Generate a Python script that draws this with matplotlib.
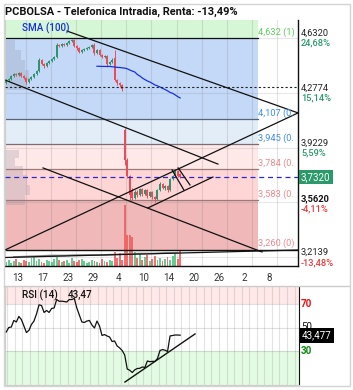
import matplotlib
matplotlib.use("Agg")
import matplotlib.pyplot as plt
from matplotlib.patches import Rectangle
import numpy as np

plt.rcParams['font.family'] = ['Roboto', 'DejaVu Sans']

# ---------------- data ----------------
title = "PCBOLSA - Telefonica Intradia, Renta: -13,49%"

opens = [4.341, 4.360, 4.367, 4.386, 4.399, 4.393, 4.405, 4.386, 4.373, 4.347,
         4.367, 4.380, 4.399, 4.418, 4.490, 4.464, 4.451, 4.470, 4.483, 4.496,
         4.509, 4.587, 4.580, 4.593, 4.587, 4.600, 4.613, 4.619, 4.580, 4.567,
         4.541, 4.554, 4.561, 4.567, 4.574, 4.587, 4.535, 4.554, 4.522, 4.509,
         4.515, 4.464, 4.477, 4.503, 4.360, 4.341, 4.328, 4.037, 3.842, 3.739,
         3.648, 3.596, 3.635, 3.616, 3.655, 3.622, 3.648, 3.609, 3.635, 3.603,
         3.590, 3.648, 3.687, 3.661, 3.674, 3.648, 3.719, 3.739, 3.771, 3.752]
highs = [4.367, 4.373, 4.393, 4.405, 4.405, 4.412, 4.412, 4.393, 4.380, 4.373,
         4.386, 4.405, 4.425, 4.503, 4.496, 4.470, 4.477, 4.490, 4.503, 4.515,
         4.600, 4.593, 4.600, 4.600, 4.606, 4.619, 4.625, 4.625, 4.587, 4.574,
         4.561, 4.567, 4.574, 4.580, 4.593, 4.600, 4.561, 4.561, 4.528, 4.522,
         4.522, 4.483, 4.503, 4.554, 4.367, 4.347, 4.334, 4.049, 3.855, 3.745,
         3.661, 3.648, 3.648, 3.661, 3.661, 3.655, 3.655, 3.642, 3.642, 3.609,
         3.655, 3.700, 3.694, 3.681, 3.681, 3.726, 3.745, 3.778, 3.778, 3.758]
lows = [4.334, 4.354, 4.360, 4.380, 4.386, 4.386, 4.380, 4.367, 4.334, 4.341,
        4.360, 4.373, 4.393, 4.412, 4.457, 4.438, 4.444, 4.464, 4.477, 4.490,
        4.503, 4.574, 4.574, 4.580, 4.580, 4.593, 4.606, 4.574, 4.554, 4.535,
        4.535, 4.548, 4.554, 4.561, 4.567, 4.522, 4.528, 4.515, 4.503, 4.503,
        4.444, 4.457, 4.470, 4.354, 4.328, 4.315, 4.289, 3.810, 3.726, 3.583,
        3.583, 3.590, 3.603, 3.609, 3.609, 3.616, 3.596, 3.603, 3.590, 3.570,
        3.583, 3.642, 3.655, 3.648, 3.635, 3.642, 3.713, 3.732, 3.732, 3.726]
closes = [4.360, 4.367, 4.386, 4.399, 4.393, 4.405, 4.386, 4.373, 4.347, 4.367,
          4.380, 4.399, 4.418, 4.490, 4.464, 4.451, 4.470, 4.483, 4.496, 4.509,
          4.587, 4.580, 4.593, 4.587, 4.600, 4.613, 4.619, 4.580, 4.567, 4.541,
          4.554, 4.561, 4.567, 4.574, 4.587, 4.535, 4.554, 4.522, 4.509, 4.515,
          4.464, 4.477, 4.490, 4.360, 4.341, 4.328, 4.302, 3.842, 3.739, 3.616,
          3.596, 3.635, 3.616, 3.655, 3.622, 3.648, 3.609, 3.635, 3.603, 3.590,
          3.648, 3.687, 3.661, 3.674, 3.648, 3.719, 3.739, 3.771, 3.739, 3.732]
volumes = [4, 6, 3, 5, 7, 4, 3, 6, 5, 4, 8, 9, 5, 7, 4, 3, 6, 5, 4, 7,
           9, 6, 4, 5, 6, 3, 8, 5, 4, 6, 7, 5, 3, 4, 6, 5, 4, 3, 7, 5,
           4, 6, 5, 14, 8, 13, 6, 61, 31, 31, 29, 14, 8, 12, 6, 9, 11, 5, 7, 10,
           6, 8, 5, 7, 9, 6, 10, 12, 7, 16]
vol_ma_bars = [3, 8, 13, 18, 23, 28, 33, 38, 43, 48, 53, 58, 63, 68]
vol_ma = [9, 9.5, 10, 10.5, 10.5, 11, 11, 11, 11.5, 12, 12.5, 12.5, 13, 13]
rsi = [46.2, 50.0, 50.4, 56.0, 54.7, 59.4, 56.8, 51.3, 45.7, 47.6,
       52.6, 55.5, 61.5, 69.3, 68.7, 62.8, 64.5, 62.8, 66.2, 66.6,
       73.8, 72.3, 72.4, 72.1, 71.7, 73.8, 73.8, 74.7, 66.6, 60.6,
       54.7, 54.3, 55.5, 56.0, 52.1, 49.6, 55.5, 51.3, 43.2, 44.0,
       42.8, 41.9, 38.1, 38.5, 34.3, 32.6, 30.4, 26.6, 14.7, 13.6,
       11.7, 14.0, 15.1, 15.3, 16.4, 16.0, 21.5, 20.9, 21.2, 21.1,
       23.6, 30.4, 31.2, 30.7, 29.6, 42.8, 43.2, 43.6, 43.6, 43.47]
sma_start = 36
sma100 = [4.449, 4.449, 4.448, 4.448, 4.448, 4.448, 4.446, 4.444, 4.442, 4.441,
          4.439, 4.437, 4.433, 4.425, 4.418, 4.412, 4.396, 4.386, 4.373, 4.363,
          4.354, 4.347, 4.338, 4.328, 4.322, 4.315, 4.306, 4.299, 4.290, 4.280,
          4.274, 4.264, 4.253, 4.244]

date_labels = ["13", "17", "23", "29", "4", "10", "14", "20", "26", "2", "8"]

fib_levels = [4.632, 4.107, 3.945, 3.784, 3.583, 3.260]
fib_labels = ["4,632 (1)", "4,107 (0.", "3,945 (0.", "3,784 (0.",
              "3,583 (0.", "3,260 (0)"]
axis_ticks = [4.6320, 4.2774, 3.9229, 3.5684, 3.2139]
tick_labels = ["4,6320", "4,2774", "3,9229", None, "3,2139"]
pct_labels = ["24,68%", "15,14%", "5,59%", None, "-13,48%"]
ref_level = 3.5620
ref_label, ref_pct = "3,5620", "-4,11%"
last_label = "3,7320"
dotted_level = 4.315
rsi_label_value = "43,47"
rsi_last_label = "43,477"

# trend lines as (bar, price) end points
trend_lines = [
    ((24.6, 4.677), (116.3, 4.147)),
    ((0.0, 4.360), (84.5, 3.816)),
    ((15.1, 3.791), (102.0, 3.247)),
    ((0.0, 3.260), (116.3, 4.147)),
    ((56.7, 3.532), (82.5, 3.732)),
    ((66.3, 3.778), (71.0, 3.648)),
    ((68.7, 3.791), (73.4, 3.681)),
]
vol_trend = ((0.0, 8.5), (116.3, 16.0))
rsi_trend = ((47.6, 3.6), (75.4, 44.5))

# left volume profile (price centre, height, width in bars)
prof_prices = [4.587, 4.522, 4.457, 4.393, 4.328, 3.881, 3.829, 3.774, 3.713, 3.648, 3.583]
prof_height = [0.064, 0.064, 0.064, 0.064, 0.064, 0.052, 0.052, 0.058, 0.064, 0.064, 0.064]
prof_width = [4.0, 6.3, 7.9, 9.5, 8.7, 5.6, 4.0, 7.1, 8.7, 9.9, 7.9]

# ---------------- layout ----------------
W, H, DPI = 353, 390, 100
PX_PER_BAR = 2.52
PX_PER_PRICE = 154.5
VOL_SCALE = 1.0 / PX_PER_PRICE

def fx(px):
    return px / W

def fy(py):
    return 1 - py / H

GREEN_UP = "#2e9470"
RED_DN = "#ee4b5a"
FS = 6.7

fig = plt.figure(figsize=(W / DPI, H / DPI), dpi=DPI)
fig.patch.set_facecolor("white")

# ---------------- main panel ----------------
ax = fig.add_axes([fx(5), fy(266), (298 - 5) / W, (266 - 20) / H])
ymax = fib_levels[0] + 18 / PX_PER_PRICE
ymin = fib_levels[0] - 228 / PX_PER_PRICE
xmax = (298 - 5) / PX_PER_BAR
ax.set_xlim(0, xmax)
ax.set_ylim(ymin, ymax)
ax.set_facecolor("white")

zone_end = (258 - 5) / PX_PER_BAR
zone_tops = [ymax] + fib_levels[:-1]
zone_bots = fib_levels
zone_colors = ["#d6f7d6", "#c3d9f7", "#e2edf8", "#ffe8e8", "#ffd6d6", "#f0b8b8"]
for t, b, c in zip(zone_tops, zone_bots, zone_colors):
    ax.add_patch(Rectangle((0, b), zone_end, t - b, facecolor=c, edgecolor="none", zorder=1))

# grid
for gx in np.arange((25.5 - 5) / PX_PER_BAR, xmax, 10.0):
    ax.axvline(gx, color="#808080", alpha=0.22, lw=0.8, zorder=1.5)
for gy in axis_ticks:
    ax.axhline(gy, color="#808080", alpha=0.18, lw=0.8, zorder=1.5)

x = np.arange(len(closes)) + 0.5
o = np.array(opens); c = np.array(closes); h = np.array(highs); l = np.array(lows)
up = c >= o
cols = np.where(up, GREEN_UP, RED_DN)

# volume
vcols = np.where(up, "#4cc47f", "#f05a5a")
ax.bar(x, np.array(volumes) * VOL_SCALE, bottom=ymin, width=0.75, color=vcols,
       alpha=0.85, linewidth=0, zorder=2)
ax.plot(np.array(vol_ma_bars) + 0.5, ymin + np.array(vol_ma) * VOL_SCALE,
        color="#888888", lw=1.2, zorder=2.2)
ax.plot([vol_trend[0][0], vol_trend[1][0]],
        [ymin + vol_trend[0][1] * VOL_SCALE, ymin + vol_trend[1][1] * VOL_SCALE],
        color="#111111", lw=0.9, zorder=4)

# volume profile
ax.barh(prof_prices, prof_width, height=prof_height, left=0, color="#8890a0",
        alpha=0.25, linewidth=0, zorder=2)

# fib lines
fib_line_colors = ["#111111", "#5a6474", "#7a6e76", "#9a7a7a", "#9a7a7a"]
for lv, lc in zip(fib_levels[:-1], fib_line_colors):
    ax.plot([0, zone_end], [lv, lv], color=lc, lw=0.9, zorder=2.5)
ax.axhline(fib_levels[-1], color="#111111", lw=1.0, zorder=2.5)

# candles
ax.vlines(x, l, h, colors=cols, lw=0.7, zorder=3)
ax.bar(x, np.maximum(np.abs(c - o), 0.004), bottom=np.minimum(o, c), width=0.78,
       color=cols, linewidth=0, zorder=3.1)

# SMA
ax.plot(x[sma_start:], sma100, color="#1a2fe0", lw=0.9, zorder=3.5)

# horizontal markers
ax.axhline(dotted_level, color="#222222", lw=0.8, ls=(0, (2, 2)), zorder=3.6)
ax.axhline(closes[-1], color="#2a2ad0", lw=0.9, ls=(0, (4, 3)), zorder=3.6)

for (x0, y0), (x1, y1) in trend_lines:
    ax.plot([x0, x1], [y0, y1], color="#111111", lw=0.9, zorder=4)

# fib labels
fib_text_colors = ["#5ccc5c", "#3f8ef0", "#3f8ef0", "#f08a8a", "#f08a8a", "#f08a8a"]
for lv, lab, tc in zip(fib_levels, fib_labels, fib_text_colors):
    ax.annotate(lab, xy=(zone_end, lv), xytext=(0, 1.5), textcoords="offset pixels",
                ha="left", va="bottom", fontsize=FS, color=tc, clip_on=True, zorder=5)

ax.text(0.058, 0.967, "SMA (100)", transform=ax.transAxes, fontsize=FS + 0.4,
        color="#1a2fe0", ha="left", va="center", fontweight="medium", zorder=5)

# spines / ticks
ax.spines["top"].set_visible(False)
ax.spines["left"].set_color("#cccccc")
ax.spines["right"].set_color("#111111")
ax.spines["bottom"].set_color("#111111")
ax.spines["right"].set_linewidth(1.0)
ax.spines["bottom"].set_linewidth(1.0)
ax.set_yticks([])
ax.set_xticks(np.arange((17.3 - 5) / PX_PER_BAR, xmax, 10.0)[:len(date_labels)])
ax.set_xticklabels(date_labels, fontsize=FS + 0.3, color="#333333")
ax.tick_params(axis="x", length=0, pad=5.0)

# right axis labels
for tv, tl, pl in zip(axis_ticks, tick_labels, pct_labels):
    if tl is None:
        continue
    ax.annotate(tl, xy=(1, tv), xycoords=("axes fraction", "data"), xytext=(3, 4.7),
                textcoords="offset pixels", ha="left", va="center", fontsize=FS,
                color="#222222", annotation_clip=False)
    pc = "#2a9a6a" if not pl.startswith("-") else "#f03a3a"
    ax.annotate(pl, xy=(1, tv), xycoords=("axes fraction", "data"), xytext=(3, -5.4),
                textcoords="offset pixels", ha="left", va="center", fontsize=FS,
                color=pc, fontweight="medium", annotation_clip=False)
ax.annotate(ref_label, xy=(1, ref_level), xycoords=("axes fraction", "data"), xytext=(3, 4.6),
            textcoords="offset pixels", ha="left", va="center", fontsize=FS,
            color="#111111", fontweight="bold", annotation_clip=False)
ax.annotate(ref_pct, xy=(1, ref_level), xycoords=("axes fraction", "data"), xytext=(3, -6),
            textcoords="offset pixels", ha="left", va="center", fontsize=FS,
            color="#f03a3a", fontweight="medium", annotation_clip=False)
ax.annotate(last_label, xy=(1, closes[-1]), xycoords=("axes fraction", "data"), xytext=(3, 0),
            textcoords="offset pixels", ha="left", va="center", fontsize=FS + 0.3,
            color="white", annotation_clip=False,
            bbox=dict(boxstyle="square,pad=0.25", fc="#2a9a6a", ec="none"))

# ---------------- RSI panel ----------------
rx = fig.add_axes([fx(5), fy(385), (299 - 5) / W, (385 - 287) / H])
rxmax = (299 - 5) / PX_PER_BAR
rx.set_xlim(0, rxmax)
rymin = 30 - (385 - 351) / 1.175
rymax = 30 + (351 - 287) / 1.175
rx.set_ylim(rymin, rymax)
rx.axhspan(70, rymax, color="#ffe8e8", lw=0, zorder=0.5)
rx.axhspan(rymin, 30, color="#e2fbe2", lw=0, zorder=0.5)
for gx in np.arange((7.3 - 5) / PX_PER_BAR, rxmax, 3.0):
    rx.axvline(gx, color="#808080", alpha=0.22, lw=0.8, zorder=1)
for gy in [70, 50, 30]:
    rx.axhline(gy, color="#808080", alpha=0.25, lw=0.8, zorder=1)
rx.plot(x, rsi, color="#111111", lw=0.9, zorder=3)
rx.plot([rsi_trend[0][0], rsi_trend[1][0]], [rsi_trend[0][1], rsi_trend[1][1]],
        color="#111111", lw=1.0, zorder=3)
rx.set_xticks([]); rx.set_yticks([])
for s in ["left", "top", "bottom"]:
    rx.spines[s].set_color("#cccccc")
rx.spines["top"].set_visible(False)
rx.spines["right"].set_color("#111111")
rx.text(0.058, 0.92, "RSI (14)", transform=rx.transAxes, fontsize=FS + 0.4,
        ha="left", va="center", color="#111111", fontweight="medium", zorder=5)
rx.text(0.215, 0.92, rsi_label_value, transform=rx.transAxes, fontsize=FS + 0.4,
        ha="left", va="center", color="#111111", fontweight="medium", zorder=5)
for lv, lc, fw, dy in [(70, "#ee1111", "bold", 0), (50, "#111111", "normal", 1),
                       (30, "#118811", "bold", 0)]:
    rx.annotate(str(lv), xy=(1, lv), xycoords=("axes fraction", "data"), xytext=(2, dy),
                textcoords="offset pixels", ha="left", va="center", fontsize=FS + 0.4,
                color=lc, fontweight=fw, annotation_clip=False)
rx.annotate(rsi_last_label, xy=(1, rsi[-1]), xycoords=("axes fraction", "data"), xytext=(3, 0),
            textcoords="offset pixels", ha="left", va="center", fontsize=FS + 0.3,
            color="white", annotation_clip=False, zorder=6,
            bbox=dict(boxstyle="square,pad=0.25", fc="#000000", ec="none"))

# ---------------- title and frame ----------------
fig.text(fx(5), fy(12), title, fontsize=7.9, fontweight="semibold", color="#111111",
         ha="left", va="center")
fig.add_artist(plt.Line2D([fx(4), fx(349)], [fy(285.7), fy(285.7)],
                          color="#cccccc", lw=1.0, transform=fig.transFigure))
fig.add_artist(Rectangle((fx(4), fy(385.5)), (349.5 - 4) / W, (385.5 - 4) / H,
                         fill=False, ec="#d4d4d4", lw=1.0, transform=fig.transFigure))

fig.savefig("out.png", dpi=DPI, facecolor="white")
